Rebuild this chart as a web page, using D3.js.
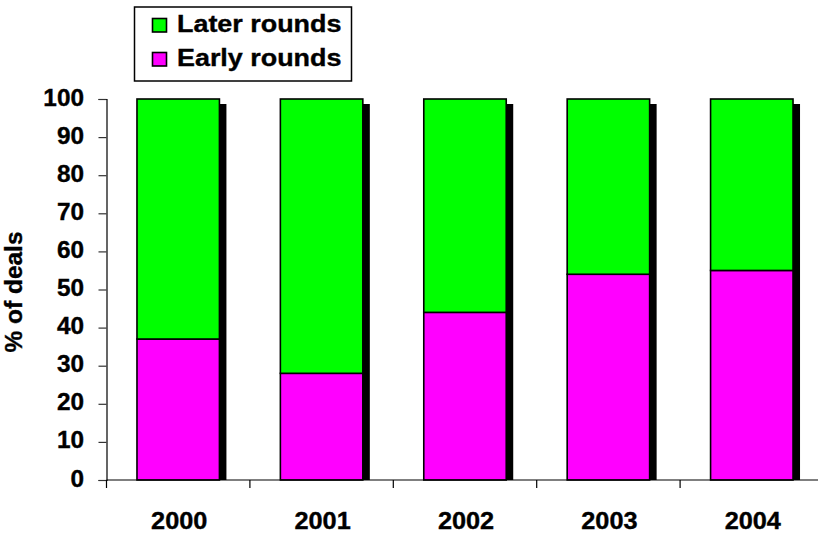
<!DOCTYPE html>
<html>
<head>
<meta charset="utf-8">
<script src="https://cdn.jsdelivr.net/npm/d3@7"></script>
<style>
  html, body { margin: 0; padding: 0; background: #fff; }
  svg text { font-family: "Liberation Sans", Arial, sans-serif; font-weight: 700; fill: #000; }
</style>
</head>
<body>
<svg id="chart" width="818" height="534"></svg>
<script>
// Share of deals by round stage, per year
const years = ["2000", "2001", "2002", "2003", "2004"];
const earlyRounds = [37, 28, 44, 54, 55];
const laterRounds = [63, 72, 56, 46, 45];
const yTicks = [0, 10, 20, 30, 40, 50, 60, 70, 80, 90, 100];
const seriesNames = ["Later rounds", "Early rounds"];
const seriesColors = ["#00ff00", "#ff00ff"];

const svg = d3.select("#chart");

// wide bold label: text placed at (px, py) and stretched horizontally
function label(parent, px, py, str, opts) {
  const g = parent.append("g")
    .attr("transform", `translate(${px},${py}) scale(${opts.sx || 1},1)` + (opts.rotate ? ` rotate(${opts.rotate})` : ""));
  return g.append("text")
    .attr("text-anchor", opts.anchor || "start")
    .attr("font-size", opts.size || 23)
    .attr("stroke", "#000")
    .attr("stroke-width", 0.35)
    .text(str);
}

const x = d3.scaleBand()
  .domain(years)
  .range([106.5, 823.5])
  .paddingInner(0.425)
  .paddingOuter(0.2125);

const y = d3.scaleLinear().domain([0, 100]).range([480, 99]);

const rows = years.map((yr, i) => ({ year: yr, early: earlyRounds[i], later: laterRounds[i] }));
const stack = d3.stack().keys(["early", "later"])(rows);

// drop shadows behind each full column, clipped at the baseline
svg.append("defs").append("clipPath").attr("id", "plotClip")
  .append("rect").attr("x", 0).attr("y", 0).attr("width", 818).attr("height", y(0));

svg.append("g").attr("clip-path", "url(#plotClip)")
  .selectAll("rect").data(rows).join("rect")
  .attr("x", d => x(d.year) + 7)
  .attr("y", d => y(d.early + d.later) + 5)
  .attr("width", x.bandwidth())
  .attr("height", d => y(0) - y(d.early + d.later))
  .attr("fill", "#000");

// stacked segments
const colorFor = { early: seriesColors[1], later: seriesColors[0] };
svg.append("g").selectAll("g").data(stack).join("g")
  .attr("fill", s => colorFor[s.key])
  .selectAll("rect").data(s => s).join("rect")
  .attr("x", d => x(d.data.year))
  .attr("y", d => y(d[1]))
  .attr("width", x.bandwidth())
  .attr("height", d => y(d[0]) - y(d[1]))
  .attr("stroke", "#000")
  .attr("stroke-width", 1.6);

// y axis (tick marks from d3, labels drawn stretched)
const yAxis = svg.append("g")
  .attr("transform", "translate(106.5,0)")
  .call(d3.axisLeft(y).tickValues(yTicks).tickSize(8).tickFormat(""));
yAxis.select(".domain").attr("stroke", "#000").attr("stroke-width", 1.2);
yAxis.selectAll(".tick line").attr("stroke", "#333").attr("stroke-width", 1.2);
const yLabels = svg.append("g");
yTicks.forEach(t => label(yLabels, 84, y(t) + 6.5, String(t), { anchor: "end", sx: 1.06 }));

// x axis: baseline with ticks between categories
const step = x.step();
const boundaries = d3.range(years.length + 1).map(i => 106.5 + i * step);
svg.append("line")
  .attr("x1", 106.5).attr("x2", 830)
  .attr("y1", y(0)).attr("y2", y(0))
  .attr("stroke", "#000").attr("stroke-width", 1.2);
svg.append("g").selectAll("line").data(boundaries).join("line")
  .attr("x1", d => d).attr("x2", d => d)
  .attr("y1", y(0)).attr("y2", y(0) + 8)
  .attr("stroke", "#000").attr("stroke-width", 1.2);
const xLabels = svg.append("g");
years.forEach(yr => label(xLabels, x(yr) + x.bandwidth() / 2 + 1, 528.5, yr, { anchor: "middle", sx: 1.1 }));

// y axis title
label(svg, 21.5, 292, "% of deals", { anchor: "middle", sx: 1, rotate: -90 })
  .attr("textLength", 121).attr("lengthAdjust", "spacingAndGlyphs");

// legend
const legend = svg.append("g");
legend.append("rect")
  .attr("x", 134.5).attr("y", 7).attr("width", 217).attr("height", 74)
  .attr("fill", "#fff").attr("stroke", "#000").attr("stroke-width", 1.5);
seriesNames.forEach((name, i) => {
  legend.append("rect")
    .attr("x", 152.5).attr("y", 18.5 + i * 34).attr("width", 14).attr("height", 13.5)
    .attr("fill", seriesColors[i])
    .attr("stroke", "#000").attr("stroke-width", 1.6);
  label(legend, 177, 32 + i * 34, name, { sx: 1.17 });
});
</script>
</body>
</html>
